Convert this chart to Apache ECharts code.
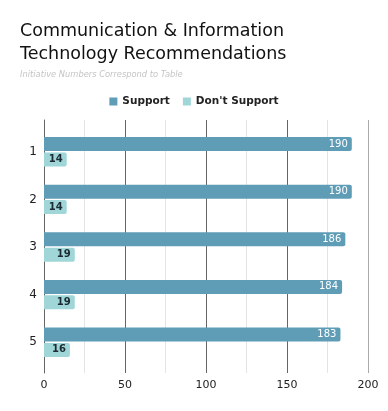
<!DOCTYPE html>
<html><head><meta charset="utf-8">
<script src="https://cdn.jsdelivr.net/npm/echarts@6/dist/echarts.min.js"></script>
<style>html,body{margin:0;padding:0;background:#fff}#c{width:388px;height:411px}</style>
</head><body><div id="c"></div>
<script>
const categories = ['1', '2', '3', '4', '5'];
const support = [190, 190, 186, 184, 183];
const dontSupport = [14, 14, 19, 19, 16];
const xTicks = [0, 50, 100, 150, 200];

const chart = echarts.init(document.getElementById('c'), null, {renderer: 'canvas'});
chart.setOption({
  animation: false,
  backgroundColor: '#fff',
  title: {
    text: 'Communication & Information\nTechnology Recommendations',
    subtext: 'Initiative Numbers Correspond to Table',
    left: 15, top: 15,
    itemGap: 5,
    textStyle: {fontFamily: 'DejaVu Sans', fontSize: 17.5, fontWeight: 'normal', color: '#111', lineHeight: 23},
    subtextStyle: {fontFamily: 'DejaVu Sans', fontSize: 8.3, fontStyle: 'italic', color: '#c4c4c4'}
  },
  legend: {
    top: 91, left: 'center',
    itemWidth: 8, itemHeight: 8, itemGap: 13,
    icon: 'rect',
    textStyle: {fontFamily: 'DejaVu Sans', fontSize: 10.5, fontWeight: 'bold', color: '#222'},
    data: ['Support', "Don't Support"]
  },
  grid: [
    {left: 44, right: 20, top: 128, bottom: 45, containLabel: false},
    {left: 44, right: 20, top: 120, bottom: 38, containLabel: false}
  ],
  xAxis: [
    {
      gridIndex: 0, type: 'value', min: 0, max: 200, interval: 50,
      axisLine: {show: false}, axisTick: {show: false},
      axisLabel: {color: '#222', fontFamily: 'DejaVu Sans', fontSize: 11, margin: 14,
        formatter: v => xTicks.includes(v) ? String(v) : ''},
      splitLine: {show: false}
    },
    {
      gridIndex: 1, type: 'value', min: 0, max: 200, interval: 50,
      axisLine: {show: false}, axisTick: {show: false}, axisLabel: {show: false},
      splitLine: {show: true, lineStyle: {color: ['#666', '#666', '#666', '#666', '#aaa'], width: 1}},
      minorTick: {show: false, splitNumber: 2},
      minorSplitLine: {show: true, lineStyle: {color: '#e4e4e4', width: 1}}
    }
  ],
  yAxis: [
    {
      gridIndex: 0, type: 'category', data: categories, inverse: true,
      axisLine: {show: false}, axisTick: {show: false},
      axisLabel: {color: '#222', fontFamily: 'DejaVu Sans', fontSize: 12, margin: 7}
    },
    {
      gridIndex: 1, type: 'value', min: 0, max: 1,
      axisLine: {show: true, lineStyle: {color: '#666'}}, axisTick: {show: false},
      axisLabel: {show: false}, splitLine: {show: false}
    }
  ],
  series: [
    {
      name: 'Support', type: 'bar', data: support, barWidth: 14, barGap: '10%', z: 3,
      itemStyle: {color: '#5f9db7', borderRadius: [0, 2, 2, 0]},
      label: {show: true, position: 'insideRight', color: '#fff', fontFamily: 'DejaVu Sans', fontSize: 10, distance: 4}
    },
    {
      name: "Don't Support", type: 'bar', data: dontSupport, barWidth: 14, z: 3,
      itemStyle: {color: '#a0d6d7', borderRadius: [0, 2, 2, 0]},
      label: {show: true, position: 'insideRight', color: '#1b2a33', fontFamily: 'DejaVu Sans', fontSize: 10, fontWeight: 'bold', distance: 4}
    }
  ]
});
</script></body></html>
